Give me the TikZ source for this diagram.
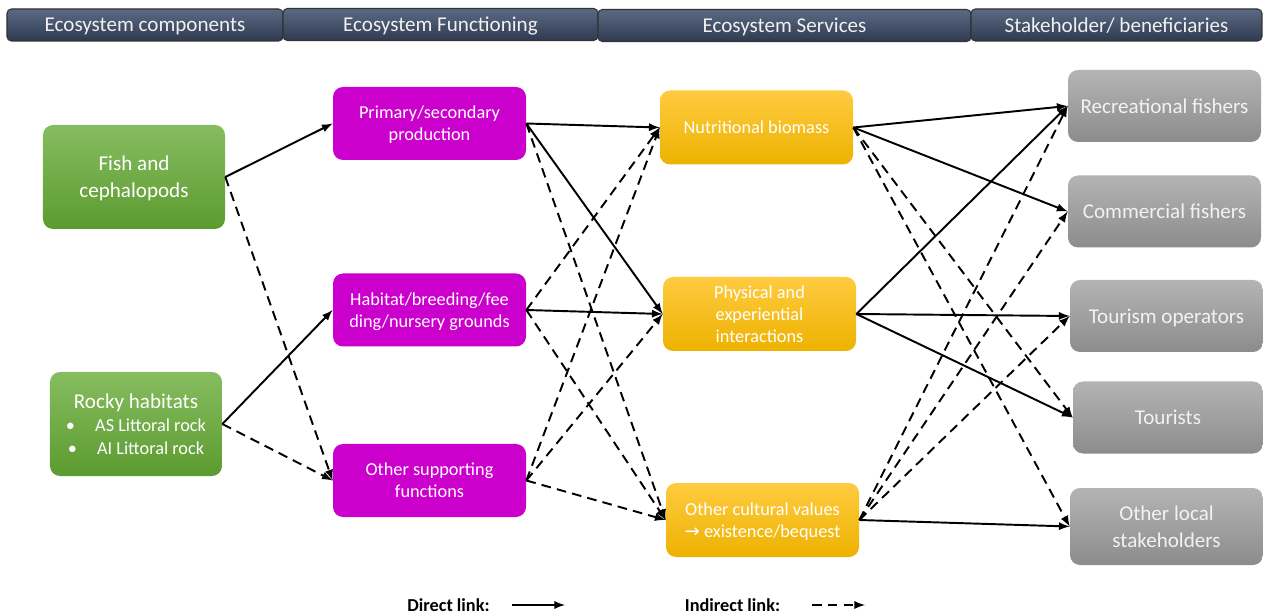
\documentclass[tikz,border=0pt]{standalone}
\usepackage{fontspec}
\setmainfont{Carlito}
\newfontfamily\arrowfnt{DejaVu Sans}
\usetikzlibrary{arrows}
\definecolor{hdtop}{HTML}{5B6A84}
\definecolor{hdbot}{HTML}{2E3A50}
\definecolor{grtop}{HTML}{86BD60}
\definecolor{grbot}{HTML}{5C9B30}
\definecolor{magfill}{HTML}{CC00CC}
\definecolor{gotop}{HTML}{FFCB40}
\definecolor{gobot}{HTML}{EDB200}
\definecolor{gytop}{HTML}{B4B4B4}
\definecolor{gybot}{HTML}{8C8C8C}

\begin{document}
\begin{tikzpicture}[x=0.2mm,y=-0.2mm,
  every node/.style={text=white,align=center,inner sep=2pt,text depth=0pt},
  small/.style={font=\fontsize{10.4}{12.5}\selectfont},
  large/.style={font=\fontsize{12}{14.2}\selectfont},
  headbar/.style={draw=black!80,line width=0.6pt,rounded corners=2.5pt,top color=hdtop,bottom color=hdbot,
    minimum height=6.4mm,text=white!94!black,font=\fontsize{12}{14}\selectfont},
  comp/.style={large,rounded corners=2mm,top color=grtop,bottom color=grbot,minimum height=20.8mm},
  func/.style={small,rounded corners=2mm,fill=magfill,minimum width=38.6mm,minimum height=14.6mm},
  serv/.style={small,rounded corners=2mm,top color=gotop,bottom color=gobot,minimum width=38.6mm,minimum height=14.8mm},
  stake/.style={large,rounded corners=2mm,top color=gytop,bottom color=gybot,minimum width=38.6mm,minimum height=14.4mm,text=white!95!black},
  dlink/.style={-latex,line width=1.1pt},
  ilink/.style={-latex,line width=1.1pt,dash pattern=on 5.5pt off 3.5pt},
  legend/.style={text=black,font=\fontsize{10.4}{12}\selectfont\bfseries}]

\useasboundingbox (0,0) rectangle (1263,616);

% column headers
\node[headbar,minimum width=55.2mm] (h1) at (145,25) {Ecosystem components};
\node[headbar,minimum width=63mm] (h2) at (440.5,24.5) {Ecosystem Functioning};
\node[headbar,minimum width=74.6mm] (h3) at (784.5,25.5) {Ecosystem Services};
\node[headbar,minimum width=58.2mm] (h4) at (1116.5,25) {Stakeholder/ beneficiaries};

% components
\node[comp,minimum width=36.4mm] (fish) at (134,177) {Fish and\\[1pt]cephalopods};
\node[comp,minimum width=34.4mm] (rocky) at (136,424) {Rocky habitats\\[-1pt]
  {\fontsize{10.4}{12.5}\selectfont\textbullet\hspace{1.1em}AS Littoral rock}\\[-1pt]
  {\fontsize{10.4}{12.5}\selectfont\textbullet\hspace{1.1em}AI Littoral rock}};

% functioning
\node[func] (prim) at (429.5,123.5) {Primary/secondary\\production};
\node[func] (habit) at (429.5,310) {Habitat/breeding/fee\\ding/nursery grounds};
\node[func] (supp) at (429.5,480.5) {Other supporting\\functions};

% services
\node[serv] (nutri) at (756.5,127.5) {Nutritional biomass};
\node[serv] (phys) at (759.5,314) {Physical and\\experiential\\interactions};
\node[serv] (cult) at (762.5,520) {Other cultural values\\{\arrowfnt →} existence/bequest};

% stakeholders
\node[stake] (recr) at (1164.5,106) {Recreational fishers};
\node[stake] (comm) at (1164.5,211.5) {Commercial fishers};
\node[stake] (tourop) at (1166.5,316) {Tourism operators};
\node[stake,minimum width=38mm] (tourist) at (1168,417.5) {Tourists};
\node[stake,minimum height=15.4mm] (other) at (1166.5,526.5) {Other local\\[1pt]stakeholders};

% links
\foreach \a/\b in {fish/prim,rocky/habit,prim/nutri,prim/phys,habit/phys,
    nutri/recr,nutri/comm,phys/recr,phys/tourop,phys/tourist,cult/other}
  \draw[dlink] (\a.east) -- (\b.west);
\foreach \a/\b in {fish/supp,rocky/supp,prim/cult,habit/nutri,habit/cult,supp/nutri,supp/phys,supp/cult,
    nutri/tourist,nutri/other,cult/recr,cult/comm,cult/tourop}
  \draw[ilink] (\a.east) -- (\b.west);

% legend
\node[legend] (dlab) at (448.5,605) {Direct link:};
\node[legend] (ilab) at (732.5,605) {Indirect link:};
\coordinate (d1) at (512,605);
\coordinate (d2) at (565,605);
\coordinate (i1) at (812,605);
\coordinate (i2) at (865,605);
\draw[dlink] (d1) -- (d2);
\draw[ilink] (i1) -- (i2);

\end{tikzpicture}
\end{document}
